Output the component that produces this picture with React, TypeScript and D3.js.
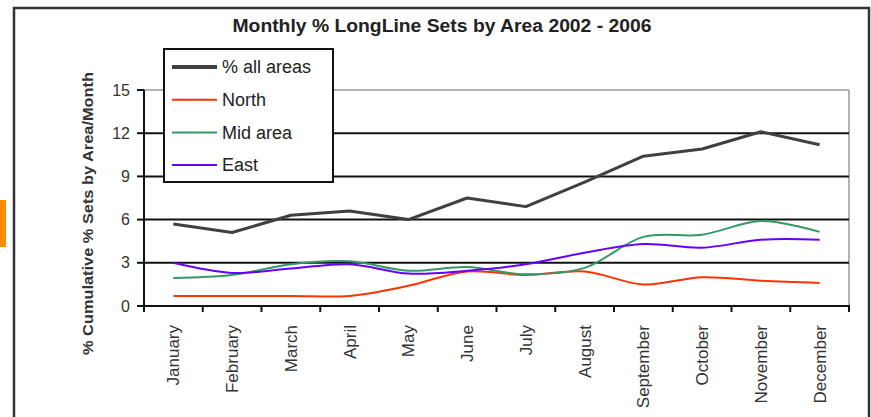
import React from "react";
import * as d3 from "d3";

const months = ["January","February","March","April","May","June","July","August","September","October","November","December"];
const allAreas = [5.7, 5.1, 6.3, 6.6, 6.0, 7.5, 6.9, 8.6, 10.4, 10.9, 12.1, 11.2];
const north = [0.7, 0.7, 0.7, 0.7, 1.4, 2.4, 2.15, 2.4, 1.5, 2.0, 1.75, 1.6];
const midArea = [1.95, 2.15, 2.9, 3.1, 2.45, 2.7, 2.2, 2.65, 4.8, 4.95, 5.9, 5.15];
const east = [3.0, 2.3, 2.6, 2.9, 2.25, 2.45, 2.9, 3.7, 4.3, 4.05, 4.6, 4.6];
const yTicks = [0, 3, 6, 9, 12, 15];
const seriesNames = ["% all areas", "North", "Mid area", "East"];

const W = 871, H = 417;
const font = "'Liberation Sans', Arial, sans-serif";

export default function App() {
  const x = d3.scaleBand<string>().domain(months).range([144, 849]);
  const y = d3.scaleLinear().domain([0, 15]).range([306, 90]);
  const cx = (m: string) => (x(m) as number) + x.bandwidth() / 2;

  const straight = d3.line<number>().x((_, i) => cx(months[i])).y((v) => y(v));
  const smooth = d3.line<number>().x((_, i) => cx(months[i])).y((v) => y(v)).curve(d3.curveCatmullRom.alpha(0.5));

  const series = [
    { name: seriesNames[0], data: allAreas, color: "#404040", width: 3, smooth: false },
    { name: seriesNames[1], data: north, color: "#ff3300", width: 2, smooth: true },
    { name: seriesNames[2], data: midArea, color: "#339966", width: 2, smooth: true },
    { name: seriesNames[3], data: east, color: "#6600ff", width: 2, smooth: true },
  ];

  const bounds = [...months.map((m) => x(m) as number), 849];

  return (
    <svg width={W} height={H} style={{ position: "absolute", left: 0, top: 0, background: "#fff" }} fontFamily={font}>
      <rect x={0} y={0} width={W} height={H} fill="#fff" />
      <rect x={0} y={200} width={6} height={47} fill="#ff8c00" />
      <rect x={14} y={8} width={855} height={440} fill="none" stroke="#333" strokeWidth={2.5} />

      <text x={442} y={32} textAnchor="middle" fontSize={18} fontWeight="bold" fill="#222" textLength={419} lengthAdjust="spacingAndGlyphs">
        Monthly % LongLine Sets by Area 2002 - 2006
      </text>

      {/* plot frame top & right */}
      <line x1={144} x2={849} y1={y(15)} y2={y(15)} stroke="#9a9a9a" strokeWidth={1.5} />
      <line x1={849} x2={849} y1={y(15)} y2={y(0)} stroke="#9a9a9a" strokeWidth={1.5} />
      {/* gridlines */}
      {yTicks.filter((t) => t > 0 && t < 15).map((t) => (
        <line key={t} x1={144} x2={849} y1={y(t)} y2={y(t)} stroke="#111" strokeWidth={2} />
      ))}

      {/* series */}
      {series.map((s) => (
        <path key={s.name} d={(s.smooth ? smooth : straight)(s.data) || ""} fill="none" stroke={s.color} strokeWidth={s.width} strokeLinejoin="round" />
      ))}

      {/* y axis */}
      <line x1={144} x2={144} y1={y(15)} y2={y(0)} stroke="#111" strokeWidth={2} />
      {yTicks.map((t) => (
        <g key={t}>
          <line x1={137} x2={144} y1={y(t)} y2={y(t)} stroke="#111" strokeWidth={2} />
          <text x={130} y={y(t)} dy="0.35em" textAnchor="end" fontSize={16} fill="#333">{t}</text>
        </g>
      ))}
      {/* x axis */}
      <line x1={143} x2={850} y1={y(0)} y2={y(0)} stroke="#111" strokeWidth={2} />
      {bounds.map((b, i) => (
        <line key={i} x1={b} x2={b} y1={y(0)} y2={y(0) + 6} stroke="#111" strokeWidth={2} />
      ))}
      {months.map((m) => (
        <text key={m} transform={`translate(${cx(m)},325) rotate(-90)`} dy="0.35em" textAnchor="end" fontSize={17} fill="#333">{m}</text>
      ))}

      <text transform="translate(88,213.5) rotate(-90)" dy="0.35em" textAnchor="middle" fontSize={15} fontWeight="bold" fill="#333" textLength={283} lengthAdjust="spacingAndGlyphs">
        % Cumulative % Sets by Area/Month
      </text>

      {/* legend */}
      <rect x={164} y={49} width={169} height={133} fill="#fff" stroke="#111" strokeWidth={2} />
      {series.map((s, i) => {
        const ly = 67 + i * 32.7;
        return (
          <g key={s.name}>
            <line x1={172} x2={217} y1={ly} y2={ly} stroke={s.color} strokeWidth={i === 0 ? 4 : 2} />
            <text x={222} y={ly} dy="0.35em" fontSize={18} fill="#222">{s.name}</text>
          </g>
        );
      })}
    </svg>
  );
}
